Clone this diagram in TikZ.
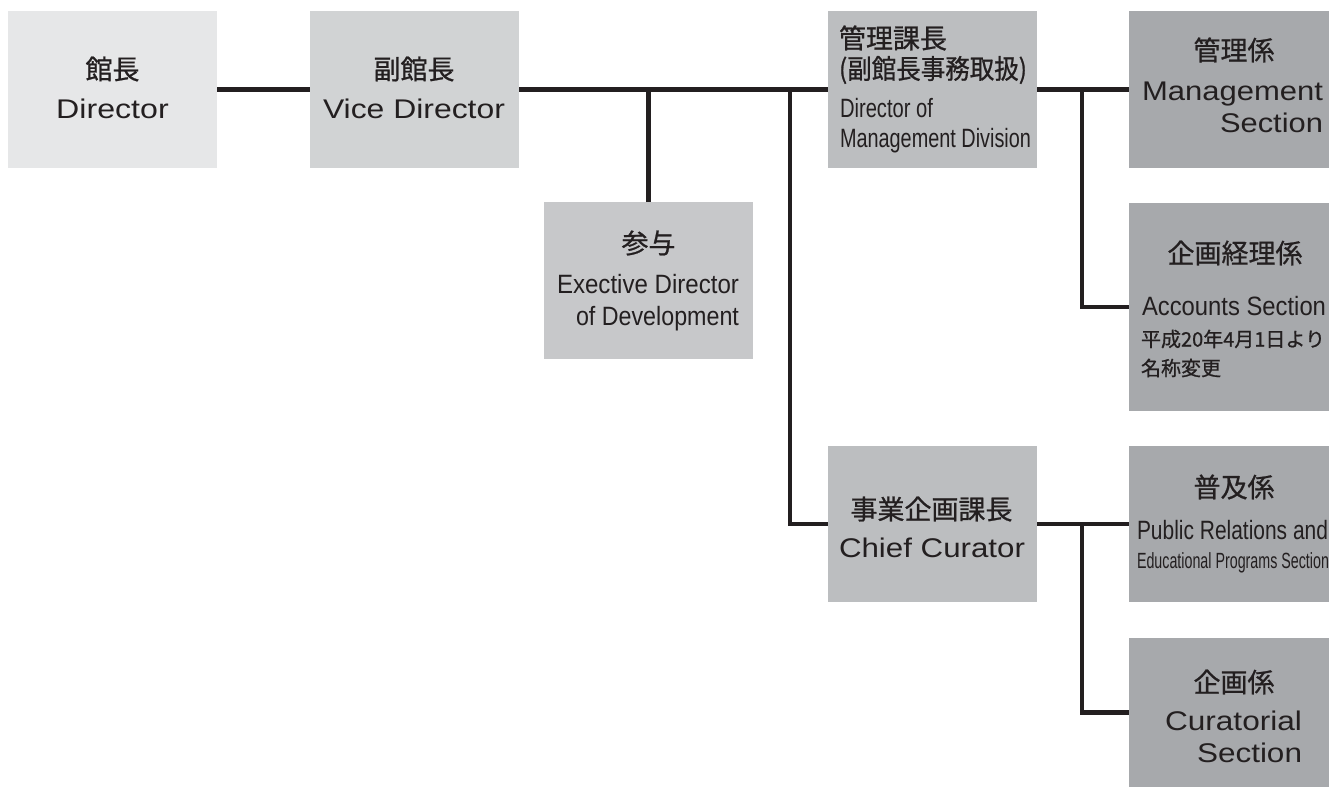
\documentclass[tikz,border=0pt]{standalone}
\usepackage{fontspec}
\usepackage{graphicx}
\setmainfont{Liberation Sans}
\newfontfamily\jpfont[FakeBold=0.8]{Noto Sans CJK JP}
\definecolor{cA}{HTML}{E6E7E8}
\definecolor{cB}{HTML}{D1D3D4}
\definecolor{cC}{HTML}{C7C8CA}
\definecolor{cD}{HTML}{BCBEC0}
\definecolor{cE}{HTML}{A7A9AC}
\definecolor{ink}{HTML}{231F20}
\newcommand{\fitw}[2]{\resizebox{#1pt}{\height}{#2}}
\tikzset{
  box/.style={rectangle, draw=none, inner sep=0pt, outer sep=0pt, anchor=north west},
  en/.style={inner sep=0pt, outer sep=0pt, text=ink, font=\fontsize{27}{27}\selectfont},
  ensm/.style={inner sep=0pt, outer sep=0pt, text=ink, font=\fontsize{26.5}{26.5}\selectfont},
  entiny/.style={inner sep=0pt, outer sep=0pt, text=ink, font=\fontsize{22}{22}\selectfont},
  jp/.style={inner sep=0pt, outer sep=0pt, text=ink, font=\jpfont\fontsize{27}{27}\selectfont},
  jpsm/.style={inner sep=0pt, outer sep=0pt, text=ink, font=\jpfont\fontsize{20}{20}\selectfont},
  link/.style={draw=ink, line width=4.5pt}
}
\begin{document}
\begin{tikzpicture}[x=1pt,y=-1pt]
\useasboundingbox (0,0) rectangle (1329,787);
% boxes
\node[box, fill=cA, minimum width=209pt, minimum height=157pt] (dir) at (8,11) {};
\node[box, fill=cB, minimum width=209pt, minimum height=157pt] (vice) at (310,11) {};
\node[box, fill=cC, minimum width=209pt, minimum height=157pt] (sanyo) at (544,202) {};
\node[box, fill=cD, minimum width=209pt, minimum height=157pt] (mdir) at (828,11) {};
\node[box, fill=cE, minimum width=200pt, minimum height=157pt] (msec) at (1129,11) {};
\node[box, fill=cE, minimum width=200pt, minimum height=208pt] (acct) at (1129,203) {};
\node[box, fill=cD, minimum width=209pt, minimum height=156pt] (chief) at (828,446) {};
\node[box, fill=cE, minimum width=200pt, minimum height=156pt] (pr) at (1129,446) {};
\node[box, fill=cE, minimum width=200pt, minimum height=149pt] (cur) at (1129,638) {};
% connectors
\coordinate (j1) at (790,89.5);
\coordinate (j2) at (1082,89.5);
\coordinate (j3) at (1082,524);
\draw[link] (dir.east) -- (vice.west);
\draw[link] (vice.east) -- (mdir.west);
\draw[link] (sanyo.north) -- (sanyo.north |- vice.east);
\draw[link] (j1) |- (chief.west);
\draw[link] (mdir.east) -- (msec.west);
\draw[link] (j2) |- (acct.west);
\draw[link] (chief.east) -- (pr.west);
\draw[link] (j3) |- (cur.west);
% texts: Director
\node[jp] (dirJ) at (112.5,69) {館長};
\node[en, anchor=base] (dirE) at (112.5,118) {\fitw{112.5}{Director}};
% Vice Director
\node[jp] (viceJ) at (414,69) {副館長};
\node[en, anchor=base] (viceE) at (414,118) {\fitw{182}{Vice Director}};
% Sanyo
\node[jp] (sanyoJ) at (648.5,243) {参与};
\node[ensm, anchor=base east] (sanyoE1) at (739,293) {\fitw{182}{Exective Director}};
\node[ensm, anchor=base east] (sanyoE2) at (739,325) {\fitw{163}{of Development}};
% Management director
\node[jp, anchor=west] (mdirJ1) at (839,38) {管理課長};
\node[jp, anchor=west] (mdirJ2) at (839,70) {\fitw{188}{(副館長事務取扱)}};
\node[ensm, anchor=base west] (mdirE1) at (840,117) {\fitw{93}{Director of}};
\node[ensm, anchor=base west] (mdirE2) at (840,147) {\fitw{191}{Management Division}};
% Management section
\node[jp] (msecJ) at (1234,50) {管理係};
\node[en, anchor=base east] (msecE1) at (1323,100) {\fitw{181}{Management}};
\node[en, anchor=base east] (msecE2) at (1323,132) {\fitw{103}{Section}};
% Accounts
\node[jp] (acctJ) at (1235,253) {企画経理係};
\node[ensm, anchor=base west] (acctE) at (1142,315) {\fitw{184}{Accounts Section}};
\node[jpsm, anchor=west] (acctN1) at (1141,339) {平成20年4月1日より};
\node[jpsm, anchor=west] (acctN2) at (1141,368) {名称変更};
% Chief curator
\node[jp] (chiefJ) at (931.5,509) {事業企画課長};
\node[en, anchor=base] (chiefE) at (932,557) {\fitw{186}{Chief Curator}};
% Public relations
\node[jp] (prJ) at (1234,487) {普及係};
\node[ensm, anchor=base west] (prE1) at (1137,539) {\fitw{191}{Public Relations and}};
\node[entiny, anchor=base west] (prE2) at (1137,568) {\fitw{192}{Educational Programs Section}};
% Curatorial
\node[jp] (curJ) at (1234,682) {企画係};
\node[en, anchor=base east] (curE1) at (1302,730) {\fitw{137}{Curatorial}};
\node[en, anchor=base east] (curE2) at (1302,762) {\fitw{105}{Section}};
\end{tikzpicture}
\end{document}
